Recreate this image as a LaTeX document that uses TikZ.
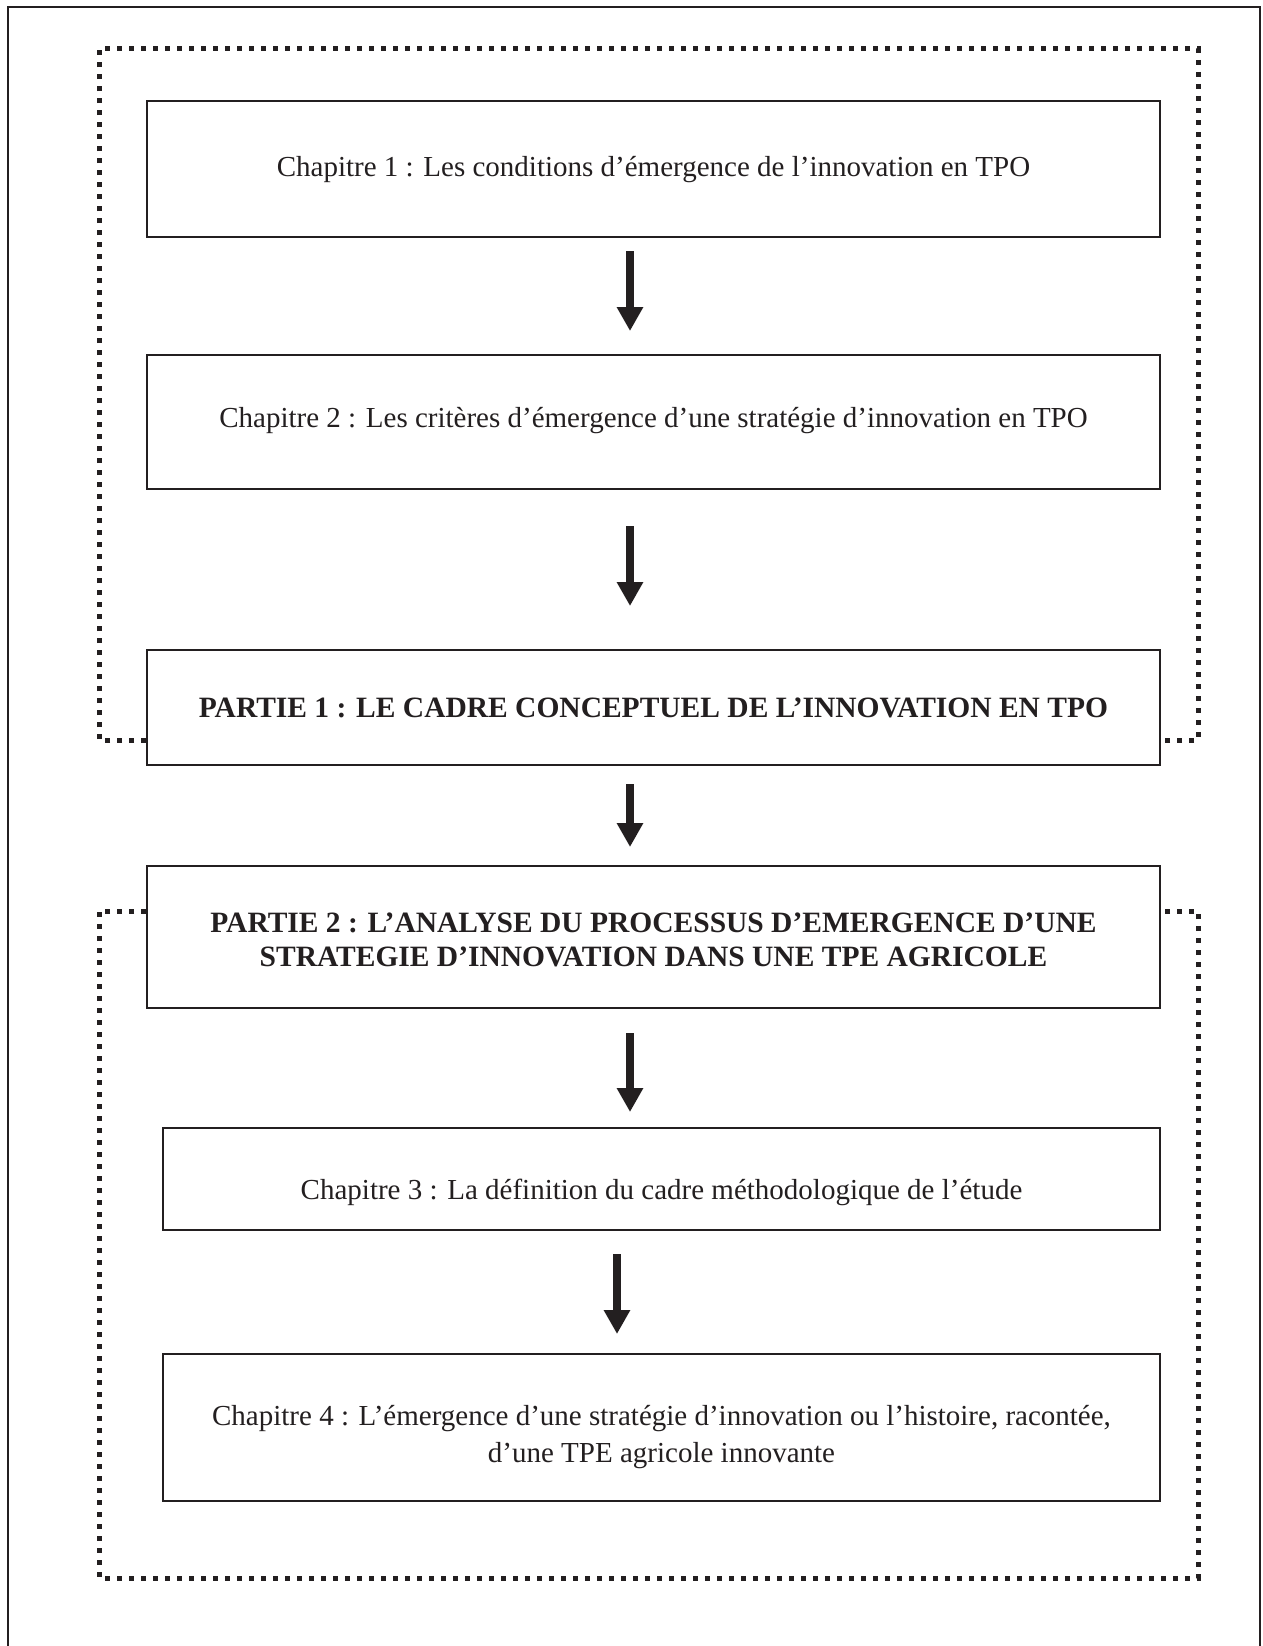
\documentclass[tikz,border=0pt]{standalone}
\usepackage{fontspec}
\setmainfont{Liberation Serif}
\usetikzlibrary{arrows.meta}
\definecolor{ink}{HTML}{231F20}
\begin{document}
\begin{tikzpicture}[x=1pt,y=-1pt,
  box/.style={draw=ink, line width=2pt, text=ink, align=center, inner sep=0pt,
    font=\fontsize{29}{34}\selectfont},
  boldtext/.style={font=\fontsize{29.5}{34}\selectfont\bfseries},
  bigarrow/.style={draw=ink, line width=8.5pt, -{Triangle[width=25pt,length=24pt]}, fill=ink},
  dotframe/.style={draw=ink, line width=5pt, dash pattern=on 5pt off 7pt}
]
\useasboundingbox (0,0) rectangle (1262,1646);
\fill[white] (0,0) rectangle (1262,1646);
% outer open frame
\draw[ink, line width=2pt] (8,1700) -- (8,7) -- (1260,7) -- (1260,1700);

% boxes
\node[box, minimum width=1013pt, minimum height=136pt] (b1) at (653.5,169)
  {\raisebox{-1pt}[\height][\depth]{Chapitre 1 : Les conditions d’émergence de l’innovation en TPO}};
\node[box, minimum width=1013pt, minimum height=134pt] (b2) at (653.5,422)
  {\raisebox{1pt}[\height][\depth]{Chapitre 2 : Les critères d’émergence d’une stratégie d’innovation en TPO}};
\node[box, boldtext, minimum width=1013pt, minimum height=115pt] (b3) at (653.5,707.5)
  {PARTIE 1 : LE CADRE CONCEPTUEL DE L’INNOVATION EN TPO};
\node[box, boldtext, minimum width=1013pt, minimum height=142pt] (b4) at (653.5,937)
  {\raisebox{-3pt}[\height][\depth]{\parbox{1000pt}{\centering PARTIE 2 : L’ANALYSE DU PROCESSUS D’EMERGENCE D’UNE\\ STRATEGIE D’INNOVATION DANS UNE TPE AGRICOLE}}};
\node[box, minimum width=997pt, minimum height=102pt] (b5) at (661.5,1179)
  {\raisebox{-13pt}[\height][\depth]{Chapitre 3 : La définition du cadre méthodologique de l’étude}};
\node[box, minimum width=997pt, minimum height=147pt] (b6) at (661.5,1427.5)
  {\raisebox{-10pt}[\height][\depth]{\parbox{990pt}{\centering\fontsize{29}{37}\selectfont Chapitre 4 : L’émergence d’une stratégie d’innovation ou l’histoire, racontée,\\ d’une TPE agricole innovante}}};

% arrow axes
\coordinate (ax) at (630,0);
\coordinate (ax2) at (617,0);

\draw[bigarrow, shorten <=13pt, shorten >=23pt] (b1.south -| ax) -- (b2.north -| ax);
\draw[bigarrow, shorten <=36pt, shorten >=43pt] (b2.south -| ax) -- (b3.north -| ax);
\draw[bigarrow, shorten <=18pt, shorten >=18pt] (b3.south -| ax) -- (b4.north -| ax);
\draw[bigarrow, shorten <=24pt, shorten >=15pt] (b4.south -| ax) -- (b5.north -| ax);
\draw[bigarrow, shorten <=23pt, shorten >=19pt] (b5.south -| ax2) -- (b6.north -| ax2);

% dotted frames
\draw[dotframe] (b3.west |- 0,740) -- (99,740) -- (99,49) -- (1198,49) -- (1198,740) -- (b3.east |- 0,740);
\draw[dotframe] (b4.west |- 0,911) -- (99,911) -- (99,1578) -- (1198,1578) -- (1198,911) -- (b4.east |- 0,911);
\end{tikzpicture}
\end{document}
